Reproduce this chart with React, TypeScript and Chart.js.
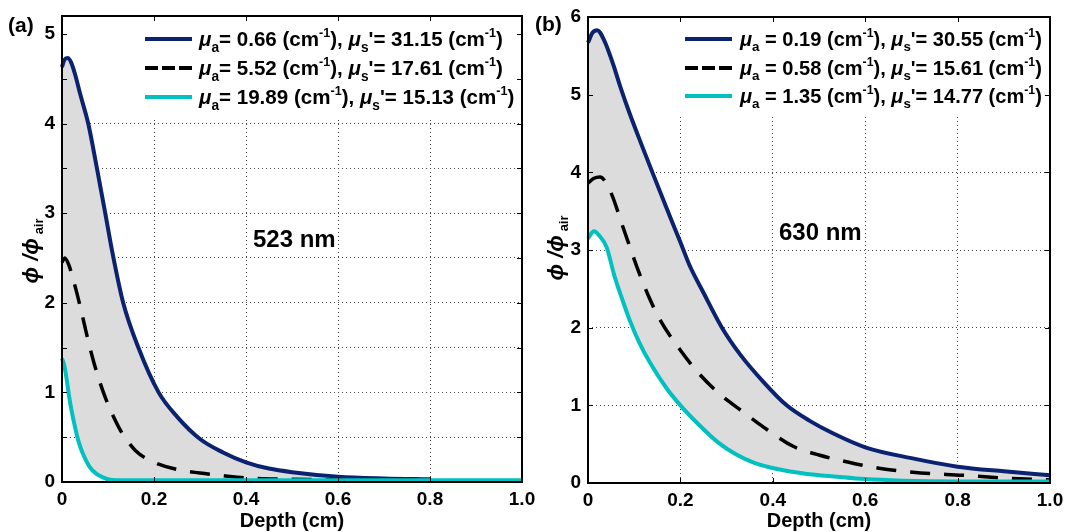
import React, { useEffect, useRef } from 'react';
import { Chart, registerables } from 'chart.js';

Chart.register(...registerables);

// ---------------- Panel (a): 523 nm ----------------
const depthA1 = [0, 0.005, 0.012, 0.02, 0.03, 0.04, 0.057, 0.076, 0.094, 0.11, 0.133, 0.166, 0.21, 0.25, 0.3, 0.35, 0.4, 0.45, 0.5, 0.6, 0.7, 0.8];
const phiA1 = [4.63, 4.71, 4.73, 4.68, 4.52, 4.32, 4.0, 3.5, 3.0, 2.55, 2.0, 1.5, 1.0, 0.73, 0.48, 0.33, 0.22, 0.15, 0.11, 0.06, 0.04, 0.03];
const depthA2 = [0, 0.006, 0.015, 0.025, 0.04, 0.055, 0.07, 0.09, 0.11, 0.13, 0.16, 0.2, 0.25, 0.3, 0.35, 0.4, 0.5, 0.6, 0.8];
const phiA2 = [2.45, 2.5, 2.42, 2.25, 1.95, 1.62, 1.32, 1.0, 0.75, 0.55, 0.35, 0.22, 0.14, 0.1, 0.07, 0.045, 0.03, 0.025, 0.02];
const depthA3 = [0, 0.005, 0.01, 0.015, 0.02, 0.028, 0.035, 0.045, 0.06, 0.075, 0.09, 0.1, 0.12, 0.2, 0.4, 0.6, 0.8, 1.0];
const phiA3 = [1.38, 1.3, 1.15, 0.97, 0.82, 0.62, 0.47, 0.32, 0.17, 0.09, 0.05, 0.03, 0.02, 0.02, 0.02, 0.02, 0.02, 0.02];
const muaA = ['0.66', '5.52', '19.89'];
const musA = ['31.15', '17.61', '15.13'];
const yTickValuesA = [0, 0.5, 1, 1.5, 2, 2.5, 3, 3.5, 4, 4.5, 5];
const yTickLabelsA = ['0', '', '1', '', '2', '', '3', '', '4', '', '5'];
const tagA = '(a)';
const waveA = '523 nm';

// ---------------- Panel (b): 630 nm ----------------
const depthB1 = [0, 0.01, 0.02, 0.035, 0.054, 0.07, 0.09, 0.115, 0.14, 0.17, 0.2, 0.22, 0.25, 0.29, 0.33, 0.38, 0.43, 0.48, 0.53, 0.6, 0.7, 0.8, 0.9, 1.0];
const phiB1 = [5.67, 5.8, 5.83, 5.7, 5.4, 5.1, 4.76, 4.37, 3.99, 3.54, 3.1, 2.8, 2.45, 2.0, 1.65, 1.3, 1.0, 0.8, 0.64, 0.46, 0.32, 0.21, 0.15, 0.1];
const depthB2 = [0, 0.012, 0.026, 0.048, 0.076, 0.106, 0.13, 0.156, 0.2, 0.243, 0.29, 0.33, 0.38, 0.445, 0.5, 0.54, 0.63, 0.72, 0.81, 0.91, 1.0];
const phiB2 = [3.86, 3.92, 3.94, 3.76, 3.29, 2.78, 2.42, 2.1, 1.71, 1.39, 1.12, 0.94, 0.72, 0.47, 0.36, 0.3, 0.19, 0.13, 0.1, 0.06, 0.04];
const depthB3 = [0, 0.013, 0.025, 0.04, 0.058, 0.075, 0.09, 0.11, 0.134, 0.17, 0.2, 0.24, 0.28, 0.32, 0.36, 0.41, 0.47, 0.54, 0.6, 0.68, 0.8, 0.9, 1.0];
const phiB3 = [3.15, 3.24, 3.18, 3.04, 2.65, 2.35, 2.1, 1.82, 1.55, 1.22, 1.0, 0.75, 0.53, 0.37, 0.26, 0.18, 0.12, 0.08, 0.05, 0.03, 0.02, 0.02, 0.02];
const muaB = ['0.19', '0.58', '1.35'];
const musB = ['30.55', '15.61', '14.77'];
const yTickValuesB = [0, 1, 2, 3, 4, 5, 6];
const yTickLabelsB = ['0', '1', '2', '3', '4', '5', '6'];
const tagB = '(b)';
const waveB = '630 nm';

// ---------------- shared ----------------
const xTickValues = [0, 0.2, 0.4, 0.6, 0.8, 1.0];
const xTickLabels = ['0', '0.2', '0.4', '0.6', '0.8', '1.0'];
const xTitle = 'Depth (cm)';

const NAVY = '#0b2270';
const CYAN = '#00c0c0';
const BLACK = '#000000';
const FILL = '#dcdcdc';
const GRID = '#444444';
const FAM = '"Liberation Sans", Arial, "DejaVu Sans", sans-serif';
const H = 532;

type Seg = { t: string; size: number; italic?: boolean; dy: number };

function segFont(s: Seg, k: number) {
  return `${s.italic ? 'italic ' : ''}bold ${s.size * k}px ${FAM}`;
}
function richWidth(ctx: CanvasRenderingContext2D, segs: Seg[], k: number) {
  let w = 0;
  for (const s of segs) {
    ctx.font = segFont(s, k);
    w += ctx.measureText(s.t).width;
  }
  return w;
}
function drawRich(ctx: CanvasRenderingContext2D, segs: Seg[], x: number, y: number, k: number) {
  let cx = x;
  for (const s of segs) {
    ctx.font = segFont(s, k);
    ctx.fillText(s.t, cx, y + s.dy * k);
    cx += ctx.measureText(s.t).width;
  }
}
function legendSegs(mua: string, mus: string, gap: string): Seg[] {
  return [
    { t: 'μ', size: 18, italic: true, dy: 0 },
    { t: 'a', size: 12, dy: 5 },
    { t: gap + '= ' + mua + ' (cm', size: 18, dy: 0 },
    { t: '-1', size: 11, dy: -8 },
    { t: '), ', size: 18, dy: 0 },
    { t: 'μ', size: 18, italic: true, dy: 0 },
    { t: 's', size: 12, dy: 5 },
    { t: "'= " + mus + ' (cm', size: 18, dy: 0 },
    { t: '-1', size: 11, dy: -8 },
    { t: ')', size: 18, dy: 0 },
  ];
}
const yTitleSegs: Seg[] = [
  { t: 'ϕ', size: 22, italic: true, dy: 0 },
  { t: ' /', size: 22, italic: true, dy: 0 },
  { t: 'ϕ', size: 22, italic: true, dy: 0 },
  { t: ' air', size: 13, dy: 5 },
];

type PanelCfg = {
  canvasX: number; canvasW: number;
  plotL: number; plotR: number; plotT: number; plotB: number;
  yMax: number; yTicks: number[]; yLabels: string[];
  depth: number[][]; phi: number[][];
  mua: string[]; mus: string[]; gap: string;
  box: { x: number; y: number; w: number; h: number };
  leg: { x1: number; x2: number; tx: number; tEnd: number; rows: number[] };
  tag: string; tagX: number; tagY: number;
  wave: string; waveX: number; waveY: number;
  yTitleX: number; yTitleY: number;
};

const panelA: PanelCfg = {
  canvasX: 0, canvasW: 545,
  plotL: 62, plotR: 522, plotT: 16, plotB: 482,
  yMax: 5.2, yTicks: yTickValuesA, yLabels: yTickLabelsA,
  depth: [depthA1, depthA2, depthA3], phi: [phiA1, phiA2, phiA3],
  mua: muaA, mus: musA, gap: '',
  box: { x: 63, y: 17, w: 458, h: 101 },
  leg: { x1: 145, x2: 192, tx: 199, tEnd: 503, rows: [39, 68, 97] },
  tag: tagA, tagX: 8, tagY: 32,
  wave: waveA, waveX: 253, waveY: 247,
  yTitleX: 30, yTitleY: 251,
};

const panelB: PanelCfg = {
  canvasX: 530, canvasW: 535,
  plotL: 58, plotR: 520, plotT: 17, plotB: 483,
  yMax: 6, yTicks: yTickValuesB, yLabels: yTickLabelsB,
  depth: [depthB1, depthB2, depthB3], phi: [phiB1, phiB2, phiB3],
  mua: muaB, mus: musB, gap: ' ',
  box: { x: 59, y: 18, w: 460, h: 98 },
  leg: { x1: 155, x2: 202, tx: 210, tEnd: 512, rows: [39, 68, 96] },
  tag: tagB, tagX: 5, tagY: 31,
  wave: waveB, waveX: 249, waveY: 240,
  yTitleX: 25, yTitleY: 248,
};

function buildConfig(p: PanelCfg): any {
  const colors = [NAVY, BLACK, CYAN];
  const pts = (i: number) => p.depth[i].map((x, j) => ({ x, y: p.phi[i][j] }));
  const datasets = [
    {
      label: 'hi', data: pts(0), borderColor: NAVY, borderWidth: 4, backgroundColor: FILL,
      fill: 2, order: 3, pointRadius: 0, cubicInterpolationMode: 'monotone', clip: false,
    },
    {
      label: 'mid', data: pts(1), borderColor: BLACK, borderWidth: 3.5, borderDash: [20, 14],
      fill: false, order: 2, pointRadius: 0, cubicInterpolationMode: 'monotone', clip: false,
    },
    {
      label: 'lo', data: pts(2), borderColor: CYAN, borderWidth: 4,
      fill: false, order: 1, pointRadius: 0, cubicInterpolationMode: 'monotone', clip: false,
    },
  ];

  const decor = {
    id: 'decor',
    beforeDatasetsDraw(chart: any) {
      const ctx = chart.ctx as CanvasRenderingContext2D;
      ctx.save();
      ctx.fillStyle = '#ffffff';
      ctx.fillRect(p.box.x, p.box.y, p.box.w, p.box.h);
      ctx.restore();
    },
    afterDatasetsDraw(chart: any) {
      const ctx = chart.ctx as CanvasRenderingContext2D;
      const a = chart.chartArea;
      const xs = chart.scales.x;
      const ys = chart.scales.y;
      ctx.save();
      ctx.strokeStyle = '#000';
      ctx.lineWidth = 1;
      ctx.beginPath();
      for (const v of p.yTicks) {
        if (v <= 0) continue;
        const y = Math.round(ys.getPixelForValue(v)) + 0.5;
        ctx.moveTo(a.left, y); ctx.lineTo(a.left + 5, y);
        ctx.moveTo(a.right - 5, y); ctx.lineTo(a.right, y);
      }
      for (const v of xTickValues) {
        if (v <= 0 || v >= 1) continue;
        const x = Math.round(xs.getPixelForValue(v)) + 0.5;
        ctx.moveTo(x, a.bottom); ctx.lineTo(x, a.bottom - 5);
        ctx.moveTo(x, a.top); ctx.lineTo(x, a.top + 5);
      }
      ctx.stroke();
      ctx.lineWidth = 2;
      ctx.strokeRect(a.left, a.top, a.right - a.left, a.bottom - a.top);
      ctx.restore();
    },
    afterDraw(chart: any) {
      const ctx = chart.ctx as CanvasRenderingContext2D;
      const a = chart.chartArea;
      ctx.save();
      ctx.fillStyle = '#000';
      ctx.textBaseline = 'alphabetic';
      ctx.textAlign = 'left';
      // legend
      const rows = p.mua.map((m, i) => legendSegs(m, p.mus[i], p.gap));
      const k = (p.leg.tEnd - p.leg.tx) / richWidth(ctx, rows[0], 1);
      rows.forEach((segs, i) => {
        const cy = p.leg.rows[i];
        ctx.save();
        ctx.strokeStyle = colors[i];
        ctx.lineWidth = 4;
        ctx.setLineDash(i === 1 ? [13, 4] : []);
        ctx.beginPath();
        ctx.moveTo(p.leg.x1, cy);
        ctx.lineTo(p.leg.x2, cy);
        ctx.stroke();
        ctx.restore();
        ctx.fillStyle = '#000';
        drawRich(ctx, segs, p.leg.tx, cy + 6 * k, k);
      });
      // panel tag
      ctx.font = `bold 21px ${FAM}`;
      ctx.fillText(p.tag, p.tagX, p.tagY);
      // wavelength
      ctx.font = `bold 24px ${FAM}`;
      ctx.fillText(p.wave, p.waveX, p.waveY);
      // x title
      ctx.font = `bold 20px ${FAM}`;
      ctx.textAlign = 'center';
      ctx.fillText(xTitle, (a.left + a.right) / 2, 527);
      ctx.textAlign = 'left';
      // y title (rotated)
      ctx.translate(p.yTitleX, p.yTitleY);
      ctx.rotate(-Math.PI / 2);
      const w = richWidth(ctx, yTitleSegs, 1);
      drawRich(ctx, yTitleSegs, -w / 2, 8, 1);
      ctx.restore();
    },
  };

  const edgeColor = (max: number) => (c: any) => {
    const v = c.tick ? c.tick.value : 0;
    return v <= 0 || v >= max ? 'rgba(0,0,0,0)' : GRID;
  };

  return {
    type: 'line',
    data: { datasets },
    plugins: [decor],
    options: {
      responsive: false,
      animation: false,
      events: [],
      layout: { padding: { left: 0, right: p.canvasW - p.plotR, top: p.plotT, bottom: 0 } },
      plugins: {
        legend: { display: false },
        tooltip: { enabled: false },
        title: { display: false },
      },
      scales: {
        x: {
          type: 'linear',
          min: 0,
          max: 1,
          afterBuildTicks: (s: any) => { s.ticks = xTickValues.map((v) => ({ value: v })); },
          afterFit: (s: any) => { s.height = H - p.plotB; s.paddingLeft = 0; s.paddingRight = 0; },
          ticks: {
            autoSkip: false, maxRotation: 0, padding: 6, color: '#000',
            font: { family: FAM, size: 19, weight: 'bold' },
            callback: (_v: any, i: number) => xTickLabels[i],
          },
          grid: { color: edgeColor(1), lineWidth: 1, drawTicks: false },
          border: { display: false, dash: [1, 3] },
        },
        y: {
          type: 'linear',
          min: 0,
          max: p.yMax,
          afterBuildTicks: (s: any) => { s.ticks = p.yTicks.map((v) => ({ value: v })); },
          afterFit: (s: any) => { s.width = p.plotL; s.paddingTop = 0; s.paddingBottom = 0; },
          ticks: {
            autoSkip: false, padding: 7, color: '#000',
            font: { family: FAM, size: 19, weight: 'bold' },
            callback: (_v: any, i: number) => p.yLabels[i],
          },
          grid: { color: edgeColor(p.yMax), lineWidth: 1, drawTicks: false },
          border: { display: false, dash: [1, 3] },
        },
      },
    },
  };
}

function Panel({ cfg }: { cfg: PanelCfg }) {
  const ref = useRef<HTMLCanvasElement>(null);
  useEffect(() => {
    const chart = new Chart(ref.current as HTMLCanvasElement, buildConfig(cfg));
    return () => chart.destroy();
  }, [cfg]);
  return (
    <canvas
      ref={ref}
      width={cfg.canvasW}
      height={H}
      style={{ position: 'absolute', left: cfg.canvasX, top: 0, width: cfg.canvasW, height: H }}
    />
  );
}

export default function App() {
  return (
    <div style={{ position: 'absolute', left: 0, top: 0, width: 1065, height: H, background: '#ffffff' }}>
      <Panel cfg={panelA} />
      <Panel cfg={panelB} />
    </div>
  );
}
